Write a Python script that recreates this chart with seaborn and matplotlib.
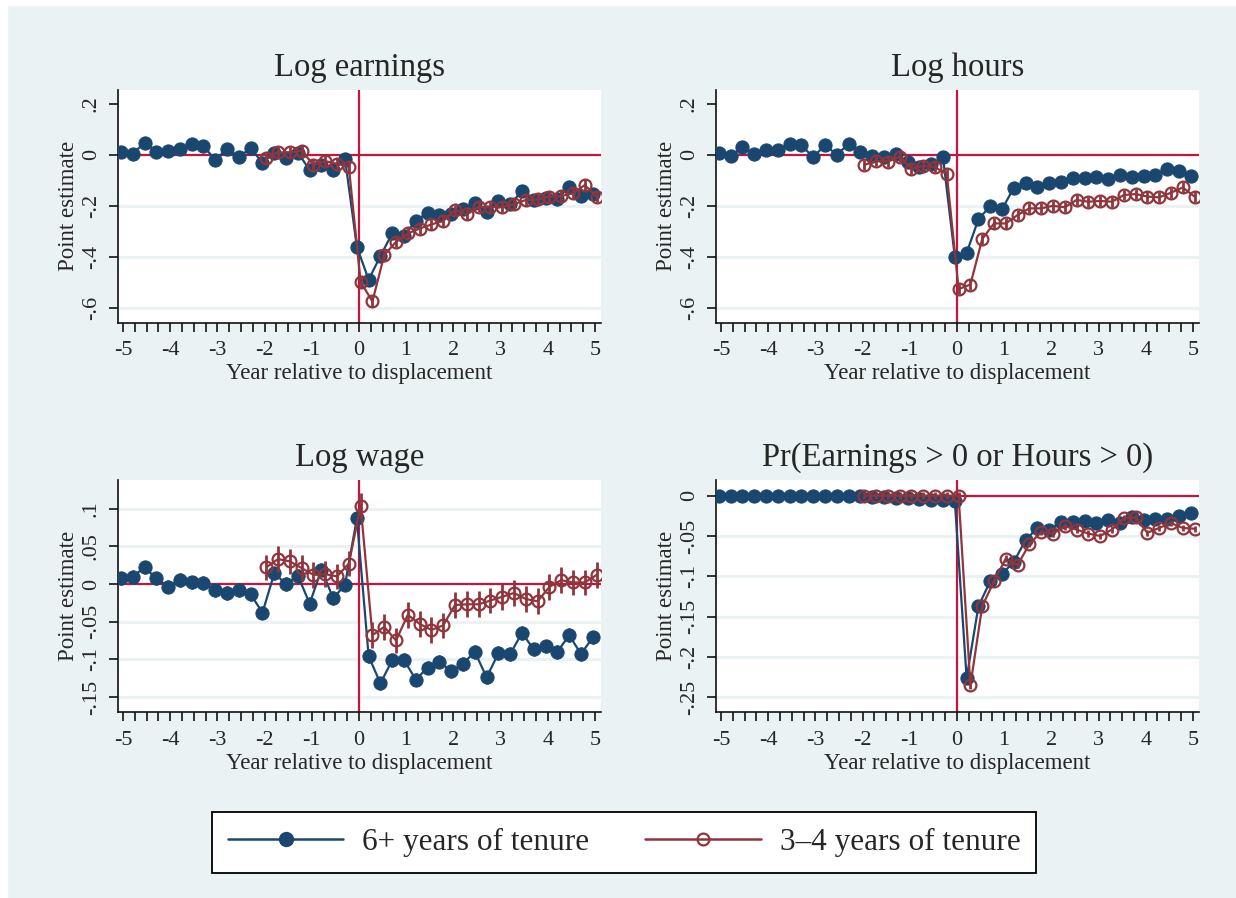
import matplotlib
matplotlib.use('Agg')
import matplotlib.pyplot as plt
from matplotlib.lines import Line2D
from matplotlib.patches import Rectangle
import pandas as pd
import seaborn as sns

sns.set_style('ticks')
plt.rcParams['font.family'] = ['Liberation Serif', 'DejaVu Serif']
plt.rcParams['axes.unicode_minus'] = False

BG = '#EAF2F3'
NAVY = '#1A476F'
MAROON = '#90353B'
REF = '#C8143C'

# event time in years (quarterly), long-tenure from -5, short-tenure from -2
quarters = [q / 4 for q in range(-20, 21)]
quarters_34 = [q / 4 for q in range(-8, 21)]

earn_6 = [0.013, 0.004, 0.048, 0.013, 0.017, 0.022, 0.043, 0.035, -0.020, 0.024,
          -0.007, 0.026, -0.030, 0.009, -0.013, 0.009, -0.059, -0.039, -0.059, -0.016,
          -0.359, -0.488, -0.395, -0.307, -0.316, -0.258, -0.226, -0.235, -0.231, -0.212,
          -0.187, -0.222, -0.180, -0.193, -0.141, -0.176, -0.170, -0.173, -0.124, -0.161, -0.153]
earn_34 = [-0.013, 0.010, 0.010, 0.017, -0.039, -0.024, -0.035, -0.046,
           -0.497, -0.573, -0.392, -0.340, -0.307, -0.288, -0.272, -0.258, -0.216, -0.233,
           -0.203, -0.205, -0.203, -0.193, -0.176, -0.174, -0.163, -0.161, -0.150, -0.118, -0.163]

hours_6 = [0.007, -0.004, 0.030, 0.004, 0.020, 0.020, 0.043, 0.037, -0.009, 0.039,
           0.001, 0.043, 0.012, -0.004, -0.009, 0.003, -0.029, -0.046, -0.035, -0.010,
           -0.399, -0.383, -0.252, -0.200, -0.213, -0.128, -0.111, -0.127, -0.111, -0.105,
           -0.092, -0.092, -0.088, -0.095, -0.078, -0.085, -0.082, -0.078, -0.055, -0.063, -0.082]
hours_34 = [-0.039, -0.024, -0.026, -0.007, -0.055, -0.043, -0.048, -0.075,
            -0.525, -0.507, -0.329, -0.268, -0.268, -0.235, -0.209, -0.209, -0.199, -0.205,
            -0.176, -0.183, -0.180, -0.183, -0.157, -0.153, -0.163, -0.166, -0.148, -0.127, -0.163]

wage_6 = [0.0075, 0.0097, 0.022, 0.0075, -0.0035, 0.0053, 0.0022, 0.0009, -0.008, -0.012,
          -0.008, -0.014, -0.038, 0.014, 0.0, 0.011, -0.026, 0.019, -0.019, -0.001,
          0.087, -0.096, -0.132, -0.101, -0.101, -0.127, -0.111, -0.103, -0.116, -0.106,
          -0.090, -0.124, -0.092, -0.093, -0.065, -0.087, -0.083, -0.090, -0.068, -0.093, -0.071]
wage_34 = [0.022, 0.033, 0.030, 0.021, 0.012, 0.013, 0.010, 0.027,
           0.104, -0.068, -0.057, -0.075, -0.041, -0.053, -0.061, -0.055, -0.028, -0.027,
           -0.027, -0.022, -0.017, -0.012, -0.020, -0.023, -0.004, 0.005, 0.002, 0.002, 0.012]

pr_6 = [0.0, 0.0, 0.0, 0.0, 0.0, 0.0, 0.0, 0.0, 0.0, 0.0,
        0.0, 0.0, -0.001, -0.002, -0.002, -0.003, -0.003, -0.004, -0.005, -0.006,
        -0.007, -0.226, -0.137, -0.106, -0.097, -0.082, -0.055, -0.040, -0.042, -0.033,
        -0.033, -0.032, -0.034, -0.030, -0.034, -0.026, -0.030, -0.029, -0.029, -0.025, -0.021]
pr_34 = [0.0, 0.0, 0.0, 0.0, 0.0, 0.0, 0.0, 0.0,
         0.0, -0.235, -0.137, -0.106, -0.078, -0.086, -0.060, -0.045, -0.047, -0.038,
         -0.042, -0.047, -0.050, -0.042, -0.028, -0.027, -0.046, -0.040, -0.034, -0.040, -0.041]

# approximate 95% CI half-widths (6+ years, 3-4 years)
ci_earn = (0.012, 0.022)
ci_hours = (0.012, 0.020)
ci_wage = (0.009, 0.017)
ci_pr = (0.003, 0.004)

titles = ['Log earnings', 'Log hours', 'Log wage', 'Pr(Earnings > 0 or Hours > 0)']
legend_labels = ['6+ years of tenure', '3\u20134 years of tenure']
xtick_labels = ['-5', '-4', '-3', '-2', '-1', '0', '1', '2', '3', '4', '5']


def draw_panel(ax, title, y6, y34, ci, ylim, yticks, ylabels, grid):
    ax.set_facecolor('white')
    for g in grid:
        ax.axhline(g, color=BG, lw=2.2, zorder=0)
    ax.axhline(0, color=REF, lw=1.6, zorder=1)
    ax.axvline(0, color=REF, lw=1.6, zorder=1)

    d6 = pd.DataFrame({'x': [q - 0.045 for q in quarters], 'y': y6})
    d34 = pd.DataFrame({'x': [q + 0.035 for q in quarters_34], 'y': y34})

    ax.vlines(d6['x'], d6['y'] - ci[0], d6['y'] + ci[0], color=NAVY, lw=2, zorder=2)
    sns.lineplot(data=d6, x='x', y='y', ax=ax, color=NAVY, lw=1.6, marker='o',
                 ms=9.5, mfc=NAVY, mec=NAVY, zorder=3, legend=False)
    ax.vlines(d34['x'], d34['y'] - ci[1], d34['y'] + ci[1], color=MAROON, lw=2, zorder=4)
    sns.lineplot(data=d34, x='x', y='y', ax=ax, color=MAROON, lw=1.6, marker='o',
                 ms=8.5, mfc='none', mec=MAROON, mew=1.6, zorder=5, legend=False)

    ax.set_xlim(-5.106, 5.12)
    ax.set_ylim(*ylim)
    ax.set_xticks(quarters)
    ax.set_xticklabels([xtick_labels[int(q) + 5] if q == int(q) else '' for q in quarters],
                       fontsize=16)
    ax.set_yticks(yticks)
    ax.set_yticklabels(ylabels, rotation=90, va='center', fontsize=16)
    ax.tick_params(axis='both', direction='out', length=6.5, width=1.1, color='black')
    ax.tick_params(axis='x', pad=7)
    ax.tick_params(axis='y', pad=6)
    sns.despine(ax=ax)
    for s in ['left', 'bottom']:
        ax.spines[s].set_color('#111111')
        ax.spines[s].set_linewidth(1.2)
    ax.set_title(title, fontsize=23.5, pad=10)
    ax.set_xlabel('Year relative to displacement', fontsize=16.5, labelpad=2)
    ax.set_ylabel('Point estimate', fontsize=16.5, labelpad=2)


fig = plt.figure(figsize=(12.36, 8.98), dpi=100)
fig.patch.set_facecolor(BG)
fig.add_artist(Rectangle((0, 0), 7 / 1236, 1, transform=fig.transFigure, color='white', zorder=-1))
fig.add_artist(Rectangle((0, 1 - 5 / 898), 1, 5 / 898, transform=fig.transFigure, color='white', zorder=-1))

w, h_top, h_bot = 0.3904, 0.2591, 0.2584
ax1 = fig.add_axes([0.0955, 0.6407, w, h_top])
ax2 = fig.add_axes([0.5793, 0.6407, w, h_top])
ax3 = fig.add_axes([0.0955, 0.2071, w, h_bot])
ax4 = fig.add_axes([0.5793, 0.2071, w, h_bot])

big_ticks = [0.2, 0, -0.2, -0.4, -0.6]
big_labels = ['.2', '0', '-.2', '-.4', '-.6']
draw_panel(ax1, titles[0], earn_6, earn_34, ci_earn, (-0.656, 0.254),
           big_ticks, big_labels, [-0.2, -0.4, -0.6])
draw_panel(ax2, titles[1], hours_6, hours_34, ci_hours, (-0.656, 0.254),
           big_ticks, big_labels, [-0.2, -0.4, -0.6])
draw_panel(ax3, titles[2], wage_6, wage_34, ci_wage, (-0.170, 0.138),
           [0.1, 0.05, 0, -0.05, -0.1, -0.15], ['.1', '.05', '0', '-.05', '-.1', '-.15'],
           [0.1, 0.05, -0.05, -0.1, -0.15])
draw_panel(ax4, titles[3], pr_6, pr_34, ci_pr, (-0.268, 0.0194),
           [0, -0.05, -0.1, -0.15, -0.2, -0.25], ['0', '-.05', '-.1', '-.15', '-.2', '-.25'],
           [-0.05, -0.1, -0.15, -0.2, -0.25])

handles = [
    Line2D([], [], color=NAVY, lw=1.8, marker='o', ms=10, mfc=NAVY, mec=NAVY),
    Line2D([], [], color=MAROON, lw=1.8, marker='o', ms=8.5, mfc='none', mec=MAROON, mew=1.6),
]
leg = fig.legend(handles, legend_labels, loc='center', bbox_to_anchor=(0.505, 0.0618),
                 ncol=2, frameon=True, fancybox=False, edgecolor='black', facecolor='white',
                 framealpha=1, fontsize=22.5, handlelength=3.7, handletextpad=0.6,
                 columnspacing=1.8, borderpad=0.5)
leg.get_frame().set_linewidth(1.3)

fig.savefig('out.png', dpi=100, facecolor=fig.get_facecolor())
